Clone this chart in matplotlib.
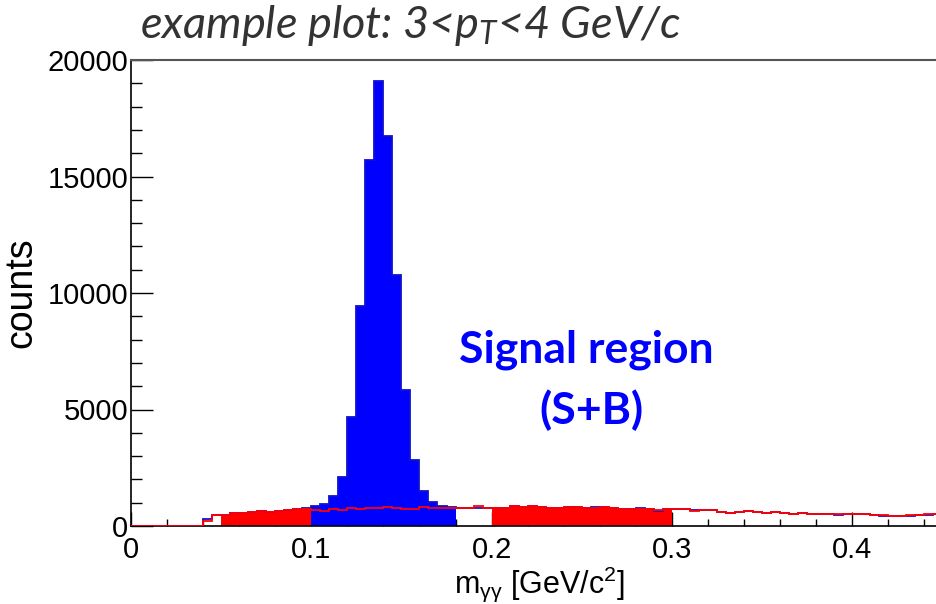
import numpy as np
import matplotlib
matplotlib.use("Agg")
import matplotlib.pyplot as plt

########################################################
# data: m_gg histogram, 0.005 GeV/c^2 bins from 0 to 0.45
########################################################
bin_lo = 0.0
bin_hi = 0.45
n_bins = 90

# signal region histogram (S+B), blue
sig_counts = [
    0, 0, 0, 0, 0, 0, 0, 0,
    290, 490, 490, 545, 570, 595, 630, 610, 655, 685, 715, 772,
    858, 950, 1295, 2090, 4690, 9455, 15720, 19100, 16740, 10760,
    5820, 2830, 1490, 1020, 872, 810, 780, 770, 770, 758,
    787, 787, 858, 830, 872, 815, 787, 787, 830, 830,
    787, 830, 830, 770, 743, 743, 787, 743, 658, 730,
    715, 715, 672, 700, 687, 615, 572, 586, 644, 615,
    543, 586, 558, 500, 558, 529, 529, 529, 486, 515,
    515, 500, 486, 443, 443, 415, 443, 457, 457, 500,
]

# background estimate, red
bkg_counts = [
    0, 0, 0, 0, 0, 0, 0, 0,
    200, 490, 490, 545, 570, 595, 630, 610, 655, 685, 715, 740,
    687, 644, 715, 672, 758, 730, 787, 787, 815, 770,
    745, 745, 800, 787, 758, 758, 758, 758, 844, 758,
    787, 787, 858, 830, 872, 815, 787, 787, 830, 800,
    758, 787, 800, 770, 743, 743, 730, 715, 672, 730,
    715, 715, 658, 700, 687, 615, 572, 586, 658, 615,
    543, 586, 558, 515, 558, 529, 529, 529, 500, 515,
    515, 500, 486, 457, 443, 443, 472, 486, 515, 500,
]

signal_region = (0.10, 0.18)
side_bands = [(0.05, 0.10), (0.20, 0.30)]

x_ticks = [0, 0.1, 0.2, 0.3, 0.4]
x_ticklabels = ["0", "0.1", "0.2", "0.3", "0.4"]
y_ticks = [0, 5000, 10000, 15000, 20000]

########################################################
# plot
########################################################
plt.rcParams['mathtext.fontset'] = 'custom'
plt.rcParams['mathtext.rm'] = 'Lato'
plt.rcParams['mathtext.it'] = 'Lato:italic'
plt.rcParams['font.family'] = ['Liberation Sans', 'DejaVu Sans']

sig = np.array(sig_counts, dtype=float)
bkg = np.array(bkg_counts, dtype=float)
edges = np.linspace(bin_lo, bin_hi, n_bins + 1)
step = (bin_hi - bin_lo) / n_bins


def idx(x):
    return int(round((x - bin_lo) / step))


fig = plt.figure(figsize=(9.36, 6.04), dpi=100)
ax = fig.add_axes([131 / 936, 78 / 604, 805 / 936, 466 / 604])

# filled regions
a, b = idx(signal_region[0]), idx(signal_region[1])
ax.stairs(sig[a:b], edges[a:b + 1], fill=True, color='#0000ff', zorder=2)
for lo, hi in side_bands:
    a, b = idx(lo), idx(hi)
    ax.stairs(bkg[a:b], edges[a:b + 1], fill=True, color='#ff0000', zorder=2)

# outlines
ax.stairs(sig, edges, color='#1010d0', lw=1.3, zorder=3)
ax.stairs(bkg, edges, color='#ff0000', lw=1.3, zorder=4)

ax.set_xlim(0, 0.4465)
ax.set_ylim(0, 20000)

ax.set_xticks(x_ticks)
ax.set_xticklabels(x_ticklabels)
ax.set_xticks(np.arange(0, 0.45, 0.02), minor=True)
ax.set_yticks(y_ticks)
ax.set_yticks(np.arange(0, 20001, 1000), minor=True)

ax.tick_params(axis='both', which='both', direction='in', width=1, colors='black')
ax.tick_params(axis='x', which='major', length=10, labelsize=21, pad=7)
ax.tick_params(axis='x', which='minor', length=5)
ax.tick_params(axis='y', which='major', length=16, labelsize=21, pad=2)
ax.tick_params(axis='y', which='minor', length=8)

ax.spines['right'].set_visible(False)
ax.spines['top'].set_color('#555555')
ax.spines['top'].set_linewidth(1.5)
ax.spines['left'].set_linewidth(1.2)
ax.spines['bottom'].set_linewidth(1.2)

ax.set_ylabel("counts", fontsize=27, labelpad=6)
ax.set_xlabel(r"$\mathregular{m_{\gamma\gamma}}$ [GeV/c$\mathregular{^2}$]", fontsize=22)
ax.xaxis.set_label_coords((540 - 131) / 805, -0.083)

fig.text(586 / 936, 1 - 350 / 604, "Signal region", color='#0000ff', fontsize=32,
         fontweight='bold', family='Lato', ha='center', va='center')
fig.text(591 / 936, 1 - 410 / 604, "(S+B)", color='#0000ff', fontsize=32,
         fontweight='bold', family='Lato', ha='center', va='center')

fig.text(140 / 936, 1 - 38 / 604, r"example plot: 3<$p_T$<4 GeV/c", color='#333333',
         fontsize=32.5, style='italic', family='Lato', ha='left', va='baseline')

plt.savefig("out.png", dpi=100)
